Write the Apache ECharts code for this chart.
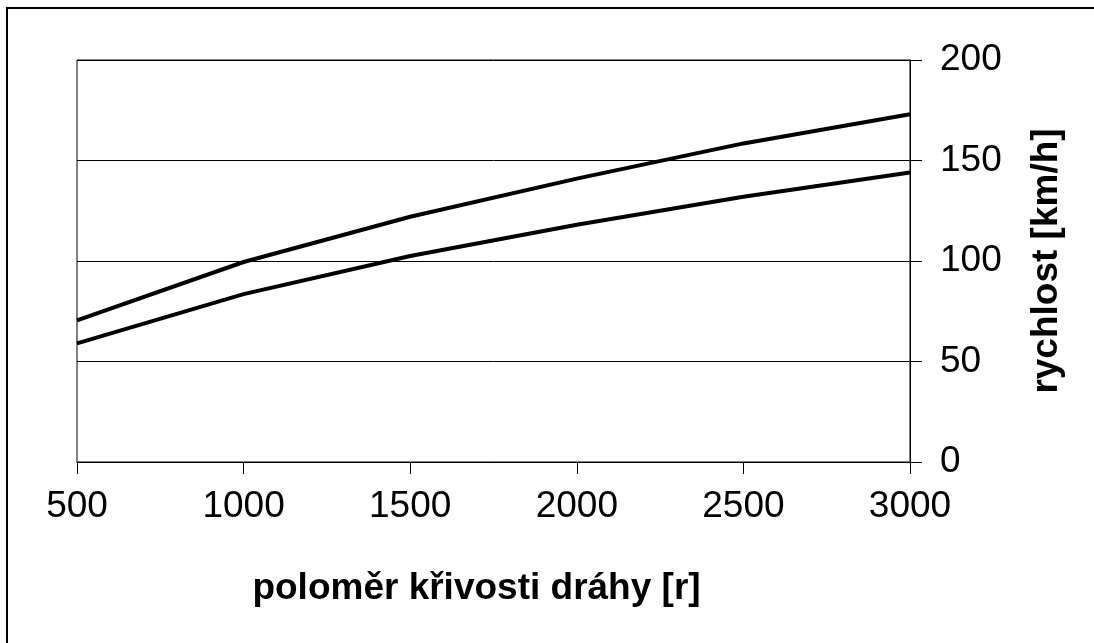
<!DOCTYPE html>
<html>
<head>
<meta charset="utf-8">
<script src="https://cdn.jsdelivr.net/npm/echarts@6/dist/echarts.min.js"></script>
<style>
html,body{margin:0;padding:0;background:#fff;}
#chart{width:1094px;height:643px;}
</style>
</head>
<body>
<div id="chart"></div>
<script>
const radii = [500, 1000, 1500, 2000, 2500, 3000];
const speedUpper = [70.5, 99.5, 122, 141, 158.5, 173];
const speedLower = [59, 83.5, 102.5, 118, 132, 144];
const xTitle = 'poloměr křivosti dráhy [r]';
const yTitle = 'rychlost [km/h]';

const chart = echarts.init(document.getElementById('chart'));
const font = 'Arial, "Liberation Sans", sans-serif';
chart.setOption({
  animation: false,
  backgroundColor: '#fff',
  graphic: [{
    type: 'rect',
    shape: {x: 7, y: 8, width: 1200, height: 800},
    style: {fill: 'none', stroke: '#000', lineWidth: 2},
    silent: true
  }],
  grid: {left: 77, right: 184, top: 60, bottom: 181, show: true, borderColor: '#000', borderWidth: 1, backgroundColor: 'transparent'},
  xAxis: {
    type: 'value', min: 500, max: 3000, interval: 500,
    name: xTitle, nameLocation: 'middle', nameGap: 108,
    nameTextStyle: {fontFamily: font, fontSize: 37, fontWeight: 'bold', color: '#000', padding: [0, 34, 0, 0]},
    axisLine: {show: true, lineStyle: {color: '#000', width: 1}},
    axisTick: {show: true, inside: false, length: 12, lineStyle: {color: '#000'}},
    axisLabel: {fontFamily: font, fontSize: 37, color: '#000', margin: 26, formatter: v => String(v)},
    splitLine: {show: false}
  },
  yAxis: {
    type: 'value', min: 0, max: 200, interval: 50, position: 'right',
    name: yTitle, nameLocation: 'middle', nameGap: 118, nameRotate: 90,
    nameTextStyle: {fontFamily: font, fontSize: 37, fontWeight: 'bold', color: '#000'},
    axisLine: {show: true, lineStyle: {color: '#000', width: 1}},
    axisTick: {show: true, inside: false, length: 12, lineStyle: {color: '#000'}},
    axisLabel: {fontFamily: font, fontSize: 37, color: '#000', margin: 30, formatter: v => String(v)},
    splitLine: {show: true, lineStyle: {color: '#000', width: 1}}
  },
  series: [
    {type: 'line', data: radii.map((r, i) => [r, speedUpper[i]]), showSymbol: false, lineStyle: {color: '#000', width: 4}},
    {type: 'line', data: radii.map((r, i) => [r, speedLower[i]]), showSymbol: false, lineStyle: {color: '#000', width: 4}}
  ]
});
</script>
</body>
</html>
